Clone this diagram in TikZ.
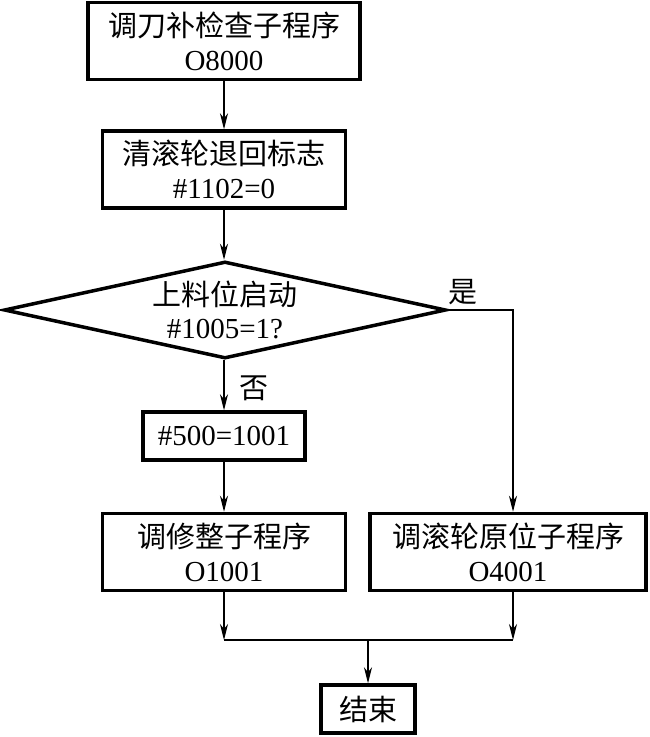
\documentclass[tikz,border=0pt]{standalone}
\usepackage{fontspec}
\setmainfont{Liberation Serif}
\newfontfamily\cjk{Noto Sans CJK SC}
\usetikzlibrary{arrows.meta,shapes.geometric}

\begin{document}
\begin{tikzpicture}[x=1pt,y=-1pt,>={Stealth[length=16pt,width=8pt,inset=5pt]},
      proc/.style={draw,line width=3.5pt,inner sep=0pt,align=center,font=\fontsize{29}{34}\selectfont},
      cond/.style={diamond,draw,line width=3.5pt,inner sep=0pt,aspect=4.5,align=center,
                   minimum width=442,minimum height=97,font=\fontsize{29}{33}\selectfont},
      lbl/.style={inner sep=0pt,font=\fontsize{29}{34}\selectfont\cjk},
      lnk/.style={line width=1.2pt}]
    \useasboundingbox (0,0) rectangle (650,737);
    % main column
    \node[proc,minimum width=272,minimum height=77] (sub) at (224,41) {{\cjk 调刀补检查子程序}\\O8000};
    \node[proc,minimum width=243,minimum height=77] (clr) at (224,169.5) {{\cjk 清滚轮退回标志}\\\#1102=0};
    \node[cond] (chk) at (225,310) {{\cjk 上料位启动}\\\#1005=1?};
    \node[proc,minimum width=162,minimum height=48] (set) at (224,436) {\#500=1001};
    \node[proc,minimum width=243,minimum height=77] (dress) at (224,552) {{\cjk 调修整子程序}\\O1001};
    \node[proc,minimum width=276,minimum height=77] (home) at (508,552) {{\cjk 调滚轮原位子程序}\\O4001};
    \node[proc,font=\fontsize{29}{34}\selectfont\cjk,minimum width=94,minimum height=48] (end) at (368,709) {结束};
    % branch labels
    \node[lbl] (ylab) at (463,292) {是};
    \node[lbl] (nlab) at (254,388) {否};
    % connectors
    \coordinate (yes) at (513,310);
    \coordinate (jl) at (224,640);
    \coordinate (jr) at (513,640);
    \coordinate (jm) at (368,640);
    \draw[lnk,->] (sub) -- (clr);
    \draw[lnk,->] (clr) -- (sub |- chk.north);
    \draw[lnk,->] (sub |- chk.south) -- (set);
    \draw[lnk,->] (set) -- (dress);
    \draw[lnk,->] (chk.east) -- (yes) -- (yes |- home.north);
    \draw[lnk,->] (dress) -- (jl);
    \draw[lnk,->] (yes |- home.south) -- (jr);
    \draw[lnk] (jl) -- (jr);
    \draw[lnk,->] (jm) -- (end);
  \end{tikzpicture}
\end{document}
